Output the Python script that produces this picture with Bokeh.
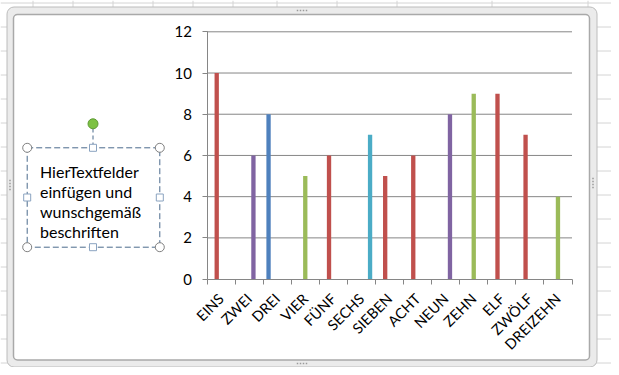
import math
from bokeh.plotting import figure
from bokeh.models import Range1d, LinearAxis, FixedTicker, BoxAnnotation, ColumnDataSource
from bokeh.core.properties import value
from bokeh.embed import file_html
from bokeh.resources import INLINE

# ---------------- data ----------------
categories = ["EINS", "ZWEI", "DREI", "VIER", "FÜNF", "SECHS", "SIEBEN",
              "ACHT", "NEUN", "ZEHN", "ELF", "ZWÖLF", "DREIZEHN"]
series_blue = [0, 0, 8, 0, 0, 0, 0, 0, 0, 0, 0, 0, 0]
series_red = [10, 0, 0, 0, 6, 0, 5, 6, 0, 0, 9, 7, 0]
series_green = [0, 0, 0, 5, 0, 0, 0, 0, 0, 9, 0, 0, 4]
series_purple = [0, 6, 0, 0, 0, 0, 0, 0, 8, 0, 0, 0, 0]
series_cyan = [0, 0, 0, 0, 0, 7, 0, 0, 0, 0, 0, 0, 0]
y_ticks = [0, 2, 4, 6, 8, 10, 12]
textbox_lines = ["HierTextfelder", "einfügen und", "wunschgemäß", "beschriften"]

# ---------------- layout ----------------
W, H = 611, 367
OFF = 0
PX0, PX13 = 206.5, 571.5      # x of category axis start / end
PY0, PY12 = 278.6, 31.3       # y of value 0 / 12
ux = (PX13 - PX0) / 13.0
uy = (PY0 - PY12) / 12.0
x_start = (OFF - PX0) / ux
x_end = (OFF + W - PX0) / ux
y_start = -(OFF + H - PY0) / uy
y_end = (PY0 - OFF) / uy

FONT = "Lato"
GRAY = "#868686"

p = figure(width=W, height=H, x_range=Range1d(x_start, x_end),
           y_range=Range1d(y_start, y_end), x_axis_type=None, y_axis_type=None,
           toolbar_location=None, output_backend="svg", min_border=0,
           outline_line_color=None, background_fill_color="white",
           border_fill_color="white")
p.extra_x_ranges = {"px": Range1d(OFF, OFF + W)}
p.extra_y_ranges = {"px": Range1d(OFF + H, OFF)}

# spreadsheet grid behind the chart object
rows_y = [2.5 + 24 * k for k in range(16)]
cols_x = [32.5, 72.5, 112.5, 152.5, 192.5, 232.5, 276.5, 336.5, 396.5, 491.5, 587.5]
r = p.segment(x0=0, y0=rows_y, x1=OFF + W, y1=rows_y, x_range_name="px",
              y_range_name="px", line_color="#d4d4d4", line_width=1)
r.level = "image"
r = p.segment(x0=cols_x, y0=0, x1=cols_x, y1=OFF + H, x_range_name="px",
              y_range_name="px", line_color="#d4d4d4", line_width=1)
r.level = "image"

# chart object frame
outer = BoxAnnotation(left=6.5, right=596.5, top=6.5, bottom=366.5,
                      x_range_name="px", y_range_name="px",
                      fill_color="#ebebeb", fill_alpha=1, line_color="#bcbcbc",
                      line_alpha=1, line_width=1, border_radius=7, level="underlay")
inner = BoxAnnotation(left=13, right=589, top=14, bottom=359.5,
                      x_range_name="px", y_range_name="px",
                      fill_color="white", fill_alpha=1, line_color="#a9a9a9",
                      line_alpha=1, line_width=1.5, border_radius=4, level="underlay")
p.add_layout(outer)
p.add_layout(inner)

# little grip dots on the frame
gx = [297, 300, 303, 306, 297, 300, 303, 306, 592.5, 592.5, 592.5, 592.5,
      9.5, 9.5, 9.5, 9.5]
gy = [10, 10, 10, 10, 363, 363, 363, 363, 178, 181, 184, 187,
      180, 183, 186, 189]
p.scatter(x=gx, y=gy, x_range_name="px", y_range_name="px", marker="square",
          size=1.5, fill_color="#9a9a9a", line_color=None)

# value gridlines
p.segment(x0=0, x1=13, y0=y_ticks[1:], y1=y_ticks[1:], line_color=GRAY, line_width=1)

# bars (clustered, Excel gap width 150%)
series = [("Reihe1", series_blue, "#4f81bd"), ("Reihe2", series_red, "#c0504d"),
          ("Reihe3", series_green, "#9bbb59"), ("Reihe4", series_purple, "#8064a2"),
          ("Reihe5", series_cyan, "#4bacc6")]
n = len(series)
slot = n + 1.5
bw = 1.0 / slot
for k, (name, vals, color) in enumerate(series):
    xs = [i + (0.75 + 0.5 + k) / slot for i in range(len(categories))]
    src = ColumnDataSource(dict(x=xs, top=vals, cat=categories))
    p.vbar(x="x", top="top", bottom=0, width=bw, source=src,
           fill_color=color, line_color=None)

# axes
yax = LinearAxis(fixed_location=0, bounds=(0, 12),
                 ticker=FixedTicker(ticks=y_ticks, minor_ticks=[]),
                 axis_line_color=GRAY, major_tick_line_color=GRAY,
                 major_tick_out=5, major_tick_in=0, minor_tick_out=0, minor_tick_in=0,
                 major_label_standoff=10, major_label_text_font=FONT,
                 major_label_text_font_size="15px", major_label_text_color="black")
p.add_layout(yax, "left")

centers = [i + 0.5 for i in range(len(categories))]
xax = LinearAxis(fixed_location=0, bounds=(0, len(categories)),
                 ticker=FixedTicker(ticks=centers,
                                    minor_ticks=list(range(len(categories) + 1))),
                 major_label_overrides={c: lab for c, lab in zip(centers, categories)},
                 axis_line_color=GRAY, major_tick_line_color=None,
                 major_tick_out=0, major_tick_in=0,
                 minor_tick_line_color=GRAY, minor_tick_out=5, minor_tick_in=0,
                 major_label_orientation=math.pi / 4, major_label_standoff=12,
                 major_label_text_font=FONT, major_label_text_font_size="14.5px",
                 major_label_text_color="black")
p.add_layout(xax, "below")

# text box (selected shape)
p.quad(left=26.7, right=159.3, top=147.3, bottom=246.7, x_range_name="px",
       y_range_name="px", fill_color=None, line_color="#4a6a8c", line_width=1,
       line_dash="6 3")
p.segment(x0=92.5, y0=128, x1=92.5, y1=144, x_range_name="px", y_range_name="px",
          line_color="#4a6a8c", line_width=1, line_dash="4 3")
p.text(x=[39.5] * len(textbox_lines), y=[170.5, 190.8, 211.1, 231.4],
       text=textbox_lines, x_range_name="px", y_range_name="px",
       text_font=value(FONT), text_font_size="16px", text_color="black",
       text_baseline="alphabetic", text_align="left")
p.scatter(x=[26.7, 159.3, 26.7, 159.3], y=[147.3, 147.3, 246.7, 246.7],
          x_range_name="px", y_range_name="px", marker="circle", size=9,
          fill_color="white", line_color="#7f7f7f", line_width=1)
p.scatter(x=[92.5, 92.5, 26.7, 159.3], y=[147.3, 246.7, 197, 197],
          x_range_name="px", y_range_name="px", marker="square", size=7,
          fill_color="white", line_color="#8aa3c0", line_width=1)
p.scatter(x=[92.5], y=[123.3], x_range_name="px", y_range_name="px",
          marker="circle", size=10, fill_color="#7dc243", line_color="#5e9a34",
          line_width=1)

open("out.html", "w").write(file_html(p, INLINE))
